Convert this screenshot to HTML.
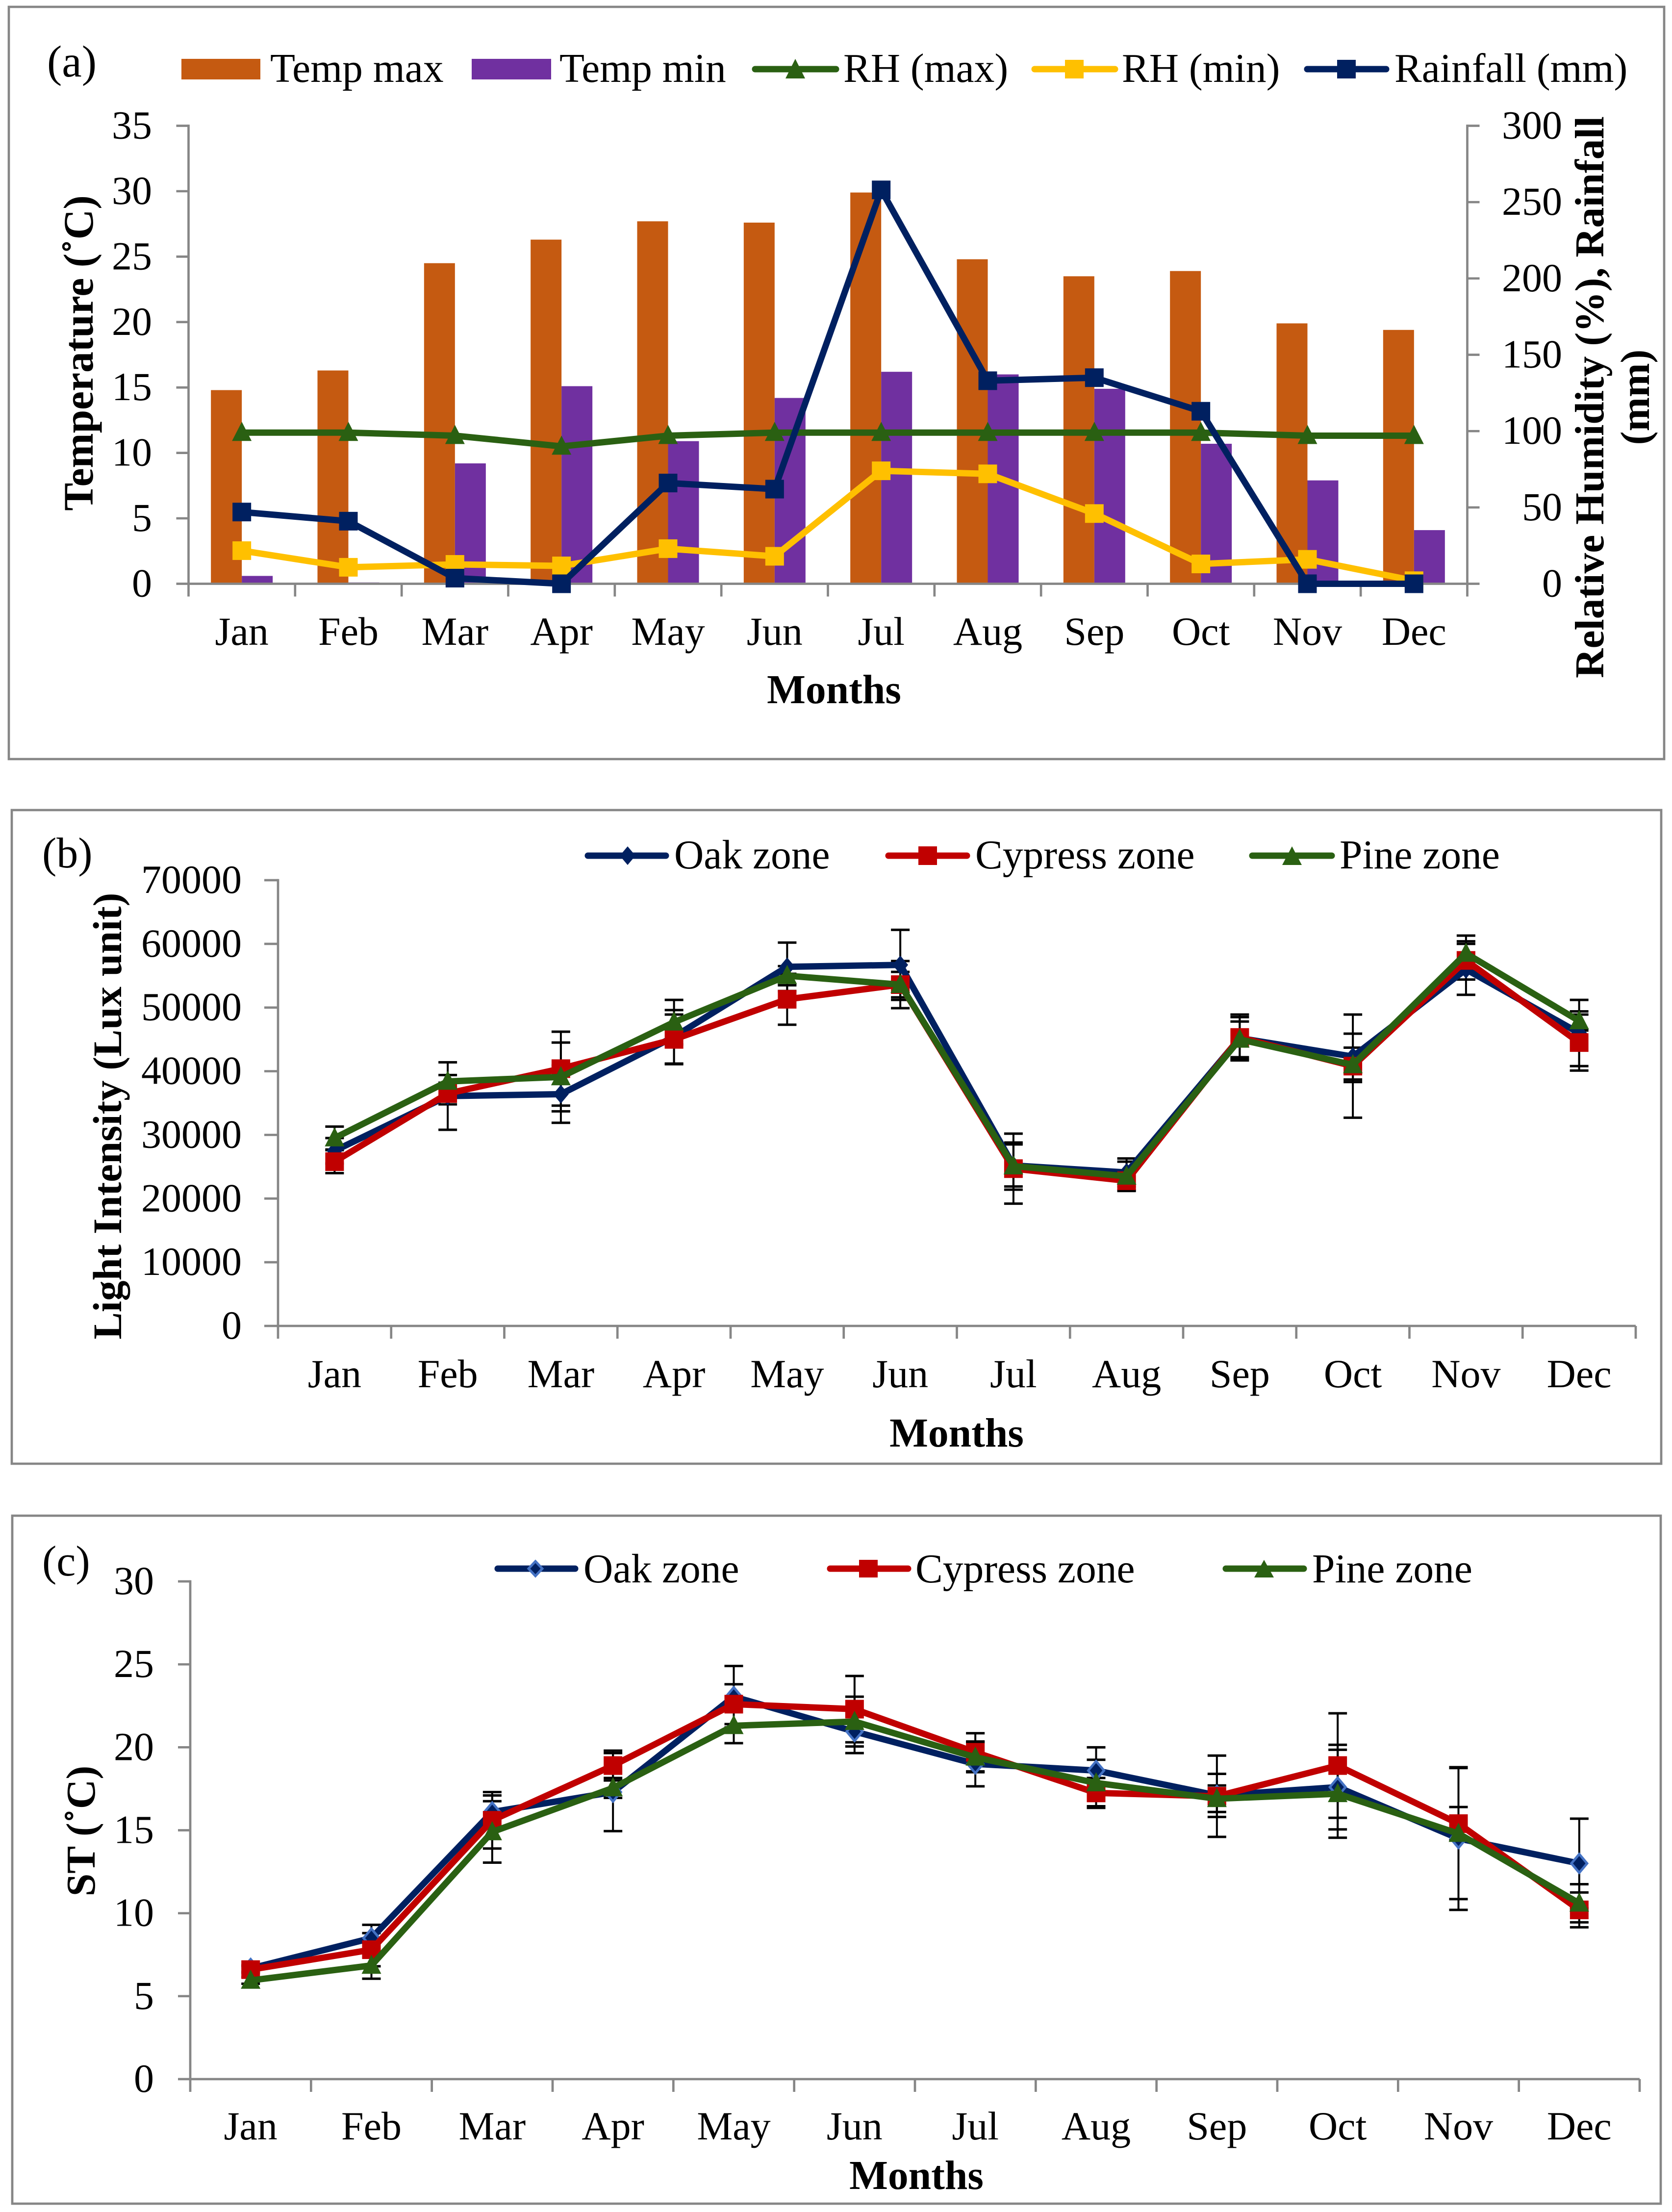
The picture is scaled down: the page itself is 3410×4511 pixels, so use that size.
<!DOCTYPE html>
<html lang="en">
<head>
<meta charset="utf-8">
<title>Monthly climate, light intensity and soil temperature</title>
<style>
html,body{margin:0;padding:0;background:#fff;}
svg{display:block;}
text{font-family:"Liberation Serif",serif;fill:#000;}
.t{font-size:82px;}
.l{font-size:83.5px;}
.b{font-size:83.5px;font-weight:bold;}
</style>
</head>
<body>
<svg id="chart" xmlns="http://www.w3.org/2000/svg" width="3410" height="4511" viewBox="0 0 3410 4511">
<rect x="0" y="0" width="3410" height="4511" fill="#fff"/>
<rect x="18" y="14" width="3376" height="1534" fill="none" stroke="#868686" stroke-width="4.7"/>
<rect x="24" y="1652" width="3364" height="1333" fill="none" stroke="#868686" stroke-width="4.7"/>
<rect x="25" y="3091" width="3362" height="1403" fill="none" stroke="#868686" stroke-width="4.7"/>

<g id="panelA"></g>
<g id="panelB"></g>
<g id="panelC"></g>

<g>
<text x="96" y="156" style="font-size:91px">(a)</text>
<text class="b" text-anchor="middle" style="font-size:85.5px" transform="translate(189,720) rotate(-90)">Temperature (˚C)</text>
<text class="b" text-anchor="middle" transform="translate(3270,810) rotate(-90)">Relative Humidity (%), Rainfall</text>
<text class="b" text-anchor="middle" transform="translate(3363,810) rotate(-90)">(mm)</text>
<text class="b" text-anchor="middle" x="1701" y="1434">Months</text>
</g>
<g>
<rect x="370" y="120" width="161" height="42" fill="#C55A11"/>
<text class="l" x="551" y="167">Temp max</text>
<rect x="962" y="120" width="162" height="42" fill="#7030A0"/>
<text class="l" x="1141" y="167">Temp min</text>
<line x1="1540" y1="141" x2="1705" y2="141" stroke="#2A6012" stroke-width="13" stroke-linecap="round"/>
<polygon points="1622,120 1642,160 1602,160" fill="#2A6012"/>
<text class="l" x="1720" y="167">RH (max)</text>
<line x1="2110" y1="141" x2="2274" y2="141" stroke="#FFC000" stroke-width="13" stroke-linecap="round"/>
<rect x="2172" y="122" width="38" height="38" fill="#FFC000"/>
<text class="l" x="2288" y="167">RH (min)</text>
<line x1="2666" y1="141" x2="2827" y2="141" stroke="#002060" stroke-width="13" stroke-linecap="round"/>
<rect x="2727" y="122" width="38" height="38" fill="#002060"/>
<text class="l" x="2844" y="167">Rainfall (mm)</text>
</g>

<g>
<text x="86" y="1769" style="font-size:88px">(b)</text>
<text class="b" text-anchor="middle" style="font-size:83px" transform="translate(247,2276) rotate(-90)">Light Intensity (Lux unit)</text>
<text class="b" text-anchor="middle" x="1951" y="2950">Months</text>
</g>
<g>
<line x1="1199" y1="1745" x2="1358" y2="1745" stroke="#002060" stroke-width="13" stroke-linecap="round"/>
<polygon points="1280,1726 1296,1745 1280,1764 1264,1745" fill="#002060"/>
<text class="l" x="1375" y="1771">Oak zone</text>
<line x1="1812" y1="1745" x2="1972" y2="1745" stroke="#C00000" stroke-width="13" stroke-linecap="round"/>
<rect x="1873" y="1726" width="38" height="38" fill="#C00000"/>
<text class="l" x="1989" y="1771">Cypress zone</text>
<line x1="2554" y1="1745" x2="2716" y2="1745" stroke="#2A6012" stroke-width="13" stroke-linecap="round"/>
<polygon points="2635,1726 2655,1764 2615,1764" fill="#2A6012"/>
<text class="l" x="2732" y="1771">Pine zone</text>
</g>

<g>
<text x="86" y="3213" style="font-size:88px">(c)</text>
<text class="b" text-anchor="middle" style="font-size:84px" transform="translate(193,3734) rotate(-90)">ST (˚C)</text>
<text class="b" text-anchor="middle" x="1869" y="4464">Months</text>
</g>
<g>
<line x1="1015" y1="3199" x2="1173" y2="3199" stroke="#002060" stroke-width="13" stroke-linecap="round"/>
<polygon points="1092,3184 1106,3199 1092,3214 1078,3199" fill="#002060" stroke="#4472C4" stroke-width="5"/>
<text class="l" x="1190" y="3227">Oak zone</text>
<line x1="1693" y1="3199" x2="1852" y2="3199" stroke="#C00000" stroke-width="13" stroke-linecap="round"/>
<rect x="1752" y="3181" width="38" height="36" fill="#C00000"/>
<text class="l" x="1867" y="3227">Cypress zone</text>
<line x1="2500" y1="3199" x2="2659" y2="3199" stroke="#2A6012" stroke-width="13" stroke-linecap="round"/>
<polygon points="2578,3181 2598,3217 2558,3217" fill="#2A6012"/>
<text class="l" x="2676" y="3227">Pine zone</text>
</g>
</svg>

<script>
// ---------- shared categories ----------
const months = ['Jan','Feb','Mar','Apr','May','Jun','Jul','Aug','Sep','Oct','Nov','Dec'];

// ---------- panel (a) data ----------
const aLeftTicks = [0,5,10,15,20,25,30,35];
const aRightTicks = [0,50,100,150,200,250,300];
const aTempMax = [14.8,16.3,24.5,26.3,27.7,27.6,29.9,24.8,23.5,23.9,19.9,19.4];
const aTempMin = [0.6,0.1,9.2,15.1,10.9,14.2,16.2,16.0,14.9,10.7,7.9,4.1];
const aRhMax = [99,99,97,90,97,99,99,99,99,99,97,97];
const aRhMin = [21.7,10.8,12.7,11.7,23,18,74,72,46,13,16,2];
const aRainfall = [47,41,3.7,0,66,62,258,133,135,113,0,0];

// ---------- panel (b) data ----------
const bTicks = [0,10000,20000,30000,40000,50000,60000,70000];
const bOak = [27500,36100,36400,45400,56400,56700,25200,24100,45200,42300,56000,46000];
const bCypress = [25800,36500,40400,45000,51300,53600,24700,22800,45300,40800,57400,44500];
const bPine = [29500,38400,39100,47700,55000,53600,25100,23500,45000,41000,58500,47900];
const bOakErr = [2000,5300,4500,4200,3800,5500,3300,2200,3300,3600,4000,5200];
const bCypressErr = [1800,1700,5800,3900,4000,3700,5500,1500,3600,8100,3000,4400];
const bPineErr = [1800,1000,5400,3500,1500,2000,3700,2300,2800,2700,2800,1500];

// ---------- panel (c) data ----------
const cTicks = [0,5,10,15,20,25,30];
const cOak = [6.67,8.5,16.1,17.3,23.05,20.95,19,18.6,17.1,17.6,14.5,13];
const cCypress = [6.6,7.8,15.6,18.9,22.6,22.3,19.7,17.25,17.05,18.9,15.4,10.2];
const cPine = [5.95,6.85,14.9,17.55,21.3,21.55,19.4,17.85,16.9,17.2,14.8,10.6];
const cOakErr = [0.2,0.8,1,2.35,1.85,1.3,1.35,1.4,1.3,2.55,4.3,2.7];
const cCypressErr = [0.2,1,1.7,0.9,1.2,2,1.15,0.9,2.45,3.15,1,1.05];
const cPineErr = [0.2,0.8,1.85,0.6,1.05,1.5,0.9,1.4,0.8,2.65,3.95,1.15];

const NS = 'http://www.w3.org/2000/svg';
const GREY = '#868686';
const AXW = 4.7;

function mk(parent, tag, props) {
  const el = document.createElementNS(NS, tag);
  for (const k in props) el.setAttribute(k, props[k]);
  parent.appendChild(el);
  return el;
}

function drawAxisLine(g, name, x1, y1, x2, y2) {
  const el = mk(g, 'line', {x1:x1, y1:y1, x2:x2, y2:y2, stroke:GREY, 'stroke-width':AXW});
  
  
  return el;
}

function drawYAxis(g, prefix, ticks, scale, axisX, tickDir, labelX) {
  const top = scale(ticks[ticks.length - 1]);
  const bottom = scale(ticks[0]);
  drawAxisLine(g, prefix + '-line', axisX, top - AXW / 2, axisX, bottom + AXW / 2);
  ticks.forEach(function (v) {
    drawAxisLine(g, prefix + '-tick', axisX, scale(v), axisX + tickDir, scale(v));
    const t = mk(g, 'text', {x:labelX, y:scale(v) + 26, 'text-anchor':'end', class:'t'});
    
    
    t.textContent = String(v);
  });
}

function drawXAxis(g, prefix, x0, x1, y, labelY) {
  const n = months.length;
  const step = (x1 - x0) / n;
  drawAxisLine(g, prefix + '-line', x0, y, x1, y);
  for (let i = 0; i <= n; i++) {
    drawAxisLine(g, prefix + '-tick', x0 + i * step, y, x0 + i * step, y + 26);
  }
  months.forEach(function (m, i) {
    const t = mk(g, 'text', {x:x0 + (i + 0.5) * step, y:labelY, 'text-anchor':'middle', class:'t'});
    
    
    t.textContent = m;
  });
}

function marker(g, kind, x, y, color, stroke) {
  let el;
  if (kind === 'square') {
    el = mk(g, 'rect', {x:x - 19, y:y - 19, width:38, height:38, fill:color});
  } else if (kind === 'triangle') {
    el = mk(g, 'polygon', {points:(x)+','+(y-22)+' '+(x+20)+','+(y+17)+' '+(x-20)+','+(y+17), fill:color});
  } else {
    el = mk(g, 'polygon', {points:(x)+','+(y-19)+' '+(x+16)+','+(y)+' '+(x)+','+(y+19)+' '+(x-16)+','+(y), fill:color});
    if (stroke) { el.setAttribute('stroke', stroke); el.setAttribute('stroke-width', '5'); }
  }
  return el;
}

function drawSeries(g, name, values, xf, yf, color, kind, stroke) {
  const pts = values.map(function (v, i) { return xf(i) + ',' + yf(v); }).join(' ');
  const line = mk(g, 'polyline', {points:pts, fill:'none', stroke:color, 'stroke-width':13, 'stroke-linejoin':'round'});
  
  
  values.forEach(function (v, i) {
    const m = marker(g, kind, xf(i), yf(v), color, stroke);
    
    
  });
}

function drawErrors(g, name, values, errs, xf, yf) {
  values.forEach(function (v, i) {
    const x = xf(i), hi = yf(v + errs[i]), lo = yf(v - errs[i]);
    const eb = mk(g, 'g', {});
    
    
    mk(eb, 'line', {x1:x, y1:hi, x2:x, y2:lo, stroke:'#000', 'stroke-width':4});
    mk(eb, 'line', {x1:x - 19, y1:hi, x2:x + 19, y2:hi, stroke:'#000', 'stroke-width':5});
    mk(eb, 'line', {x1:x - 19, y1:lo, x2:x + 19, y2:lo, stroke:'#000', 'stroke-width':5});
  });
}

// ---------- panel (a) ----------
(function () {
  const g = document.getElementById('panelA');
  const X0 = 384.5, X1 = 2992.5, Y0 = 1190.5, YT = 256.5;
  const step = (X1 - X0) / months.length;
  const xf = function (i) { return X0 + (i + 0.5) * step; };
  const yL = function (v) { return Y0 - v / 35 * (Y0 - YT); };
  const yR = function (v) { return Y0 - v / 300 * (Y0 - YT); };
  const barW = 63;
  aTempMax.forEach(function (v, i) {
    const r = mk(g, 'rect', {x:xf(i) - barW, y:yL(v), width:barW, height:Y0 - yL(v), fill:'#C55A11'});
    
    
  });
  aTempMin.forEach(function (v, i) {
    const r = mk(g, 'rect', {x:xf(i), y:yL(v), width:barW, height:Y0 - yL(v), fill:'#7030A0'});
    
    
  });
  drawYAxis(g, 'left-y-axis', aLeftTicks, yL, X0, -25, 310);
  drawYAxis(g, 'right-y-axis', aRightTicks, yR, X1, 25, 3186);
  drawXAxis(g, 'a-x-axis', X0, X1, Y0, 1315);
  drawSeries(g, 'rh-max', aRhMax, xf, yR, '#2A6012', 'triangle');
  drawSeries(g, 'rh-min', aRhMin, xf, yR, '#FFC000', 'square');
  drawSeries(g, 'rainfall', aRainfall, xf, yR, '#002060', 'square');
})();

// ---------- panel (b) ----------
(function () {
  const g = document.getElementById('panelB');
  const X0 = 567, X1 = 3336, Y0 = 2704, YT = 1795;
  const step = (X1 - X0) / months.length;
  const xf = function (i) { return X0 + (i + 0.5) * step; };
  const yf = function (v) { return Y0 - v / 70000 * (Y0 - YT); };
  drawYAxis(g, 'b-y-axis', bTicks, yf, X0, -28, 493);
  drawXAxis(g, 'b-x-axis', X0, X1, Y0, 2829);
  drawErrors(g, 'oak-b', bOak, bOakErr, xf, yf);
  drawErrors(g, 'cypress-b', bCypress, bCypressErr, xf, yf);
  drawErrors(g, 'pine-b', bPine, bPineErr, xf, yf);
  drawSeries(g, 'oak-b', bOak, xf, yf, '#002060', 'diamond');
  drawSeries(g, 'cypress-b', bCypress, xf, yf, '#C00000', 'square');
  drawSeries(g, 'pine-b', bPine, xf, yf, '#2A6012', 'triangle');
})();

// ---------- panel (c) ----------
(function () {
  const g = document.getElementById('panelC');
  const X0 = 388, X1 = 3344, Y0 = 4240, YT = 3225;
  const step = (X1 - X0) / months.length;
  const xf = function (i) { return X0 + (i + 0.5) * step; };
  const yf = function (v) { return Y0 - v / 30 * (Y0 - YT); };
  drawYAxis(g, 'c-y-axis', cTicks, yf, X0, -25, 314);
  drawXAxis(g, 'c-x-axis', X0, X1, Y0, 4363);
  drawErrors(g, 'oak-c', cOak, cOakErr, xf, yf);
  drawErrors(g, 'cypress-c', cCypress, cCypressErr, xf, yf);
  drawErrors(g, 'pine-c', cPine, cPineErr, xf, yf);
  drawSeries(g, 'oak-c', cOak, xf, yf, '#002060', 'diamond', '#4472C4');
  drawSeries(g, 'cypress-c', cCypress, xf, yf, '#C00000', 'square');
  drawSeries(g, 'pine-c', cPine, xf, yf, '#2A6012', 'triangle');
})();
</script>
</body>
</html>
